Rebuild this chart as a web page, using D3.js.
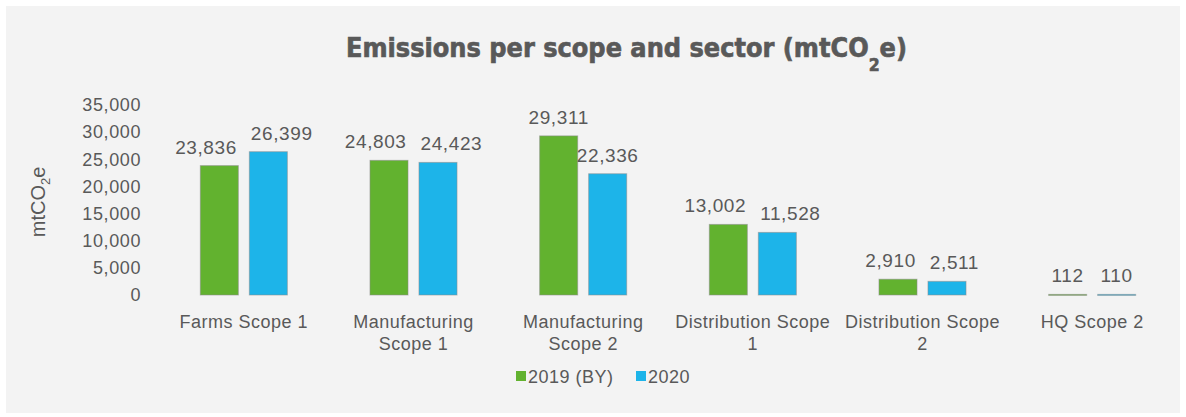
<!DOCTYPE html>
<html>
<head>
<meta charset="utf-8">
<script src="https://cdn.jsdelivr.net/npm/d3@7"></script>
<style>
  body { margin: 0; background: #ffffff; }
  svg { display: block; }
</style>
</head>
<body>
<svg id="chart" width="1186" height="417"></svg>
<script>
// data
var categories = ["Farms Scope 1", "Manufacturing Scope 1", "Manufacturing Scope 2",
                  "Distribution Scope 1", "Distribution Scope 2", "HQ Scope 2"];
var categoryLines = [["Farms Scope 1"], ["Manufacturing", "Scope 1"], ["Manufacturing", "Scope 2"],
                     ["Distribution Scope", "1"], ["Distribution Scope", "2"], ["HQ Scope 2"]];
var seriesNames = ["2019 (BY)", "2020"];
var values2019 = [23836, 24803, 29311, 13002, 2910, 112];
var values2020 = [26399, 24423, 22336, 11528, 2511, 110];
var yTicks = [0, 5000, 10000, 15000, 20000, 25000, 30000, 35000];

var seriesValues = [values2019, values2020];
var textColor = "#595959";
var color = d3.scaleOrdinal().domain(seriesNames).range(["#62b22f", "#1db4e9"]);
var fmt = d3.format(",");

var svg = d3.select("#chart");

// grey panel
svg.append("rect")
    .attr("x", 6)
    .attr("y", 6)
    .attr("width", 1174)
    .attr("height", 407)
    .attr("fill", "#f3f3f3");

// title
var title = svg.append("text")
    .attr("x", 346)
    .attr("y", 57)
    .attr("textLength", 561)
    .attr("lengthAdjust", "spacingAndGlyphs")
    .attr("font-family", "'Liberation Sans Narrow', 'DejaVu Sans Condensed', 'Liberation Sans', sans-serif")
    .attr("font-weight", "bold")
    .attr("font-size", "26px")
    .attr("stroke", textColor)
    .attr("stroke-width", 0.6)
    .attr("fill", textColor);
title.append("tspan").text("Emissions per scope and sector (mtCO");
title.append("tspan").attr("dy", 14).attr("font-size", "17px").text("2");
title.append("tspan").attr("dy", -14).text("e)");

// scales
var x0 = d3.scaleBand().domain(categories).range([159, 1177]).paddingInner(0.487).paddingOuter(0.2435);
var x1 = d3.scaleBand().domain(seriesNames).range([0, x0.bandwidth()]).paddingInner(0.224);
var yScale = d3.scaleLinear().domain([0, 35000]).range([295, 105]);

// y axis labels
var yAxis = svg.append("g")
    .attr("transform", "translate(141,0)")
    .call(d3.axisLeft(yScale).tickValues(yTicks).tickFormat(fmt).tickSize(0).tickPadding(0));
yAxis.select(".domain").remove();
yAxis.selectAll("text")
    .attr("font-family", "'Liberation Sans', Arial, sans-serif")
    .attr("font-size", "18px")
    .attr("letter-spacing", "0.6px")
    .attr("fill", textColor);

// y axis title
var yTitle = svg.append("text")
    .attr("transform", "translate(45,202) rotate(-90)")
    .attr("text-anchor", "middle")
    .attr("font-family", "'Liberation Sans', Arial, sans-serif")
    .attr("font-size", "20px")
    .attr("fill", textColor);
yTitle.append("tspan").text("mtCO");
yTitle.append("tspan").attr("dy", 5).attr("font-size", "13px").text("2");
yTitle.append("tspan").attr("dy", -5).text("e");

// bars
var groups = svg.selectAll("g.group")
    .data(categories)
    .enter().append("g")
    .attr("class", "group")
    .attr("transform", d => "translate(" + x0(d) + ",0)");

groups.selectAll("rect")
    .data((d, i) => seriesNames.map((s, j) => ({ series: s, value: seriesValues[j][i] })))
    .enter().append("rect")
    .attr("x", d => x1(d.series))
    .attr("y", d => yScale(d.value))
    .attr("width", x1.bandwidth())
    .attr("height", d => Math.max(1, yScale(0) - yScale(d.value)))
    .attr("fill", d => color(d.series))
    .attr("stroke", "#8c8c8c")
    .attr("stroke-opacity", 0.55)
    .attr("stroke-width", 1);

// value labels
var labels = groups.selectAll("text.value")
    .data((d, i) => seriesNames.map((s, j) => ({ series: s, value: seriesValues[j][i] })))
    .enter().append("text")
    .attr("class", "value")
    .attr("x", d => x1(d.series) + x1.bandwidth() / 2)
    .attr("y", d => yScale(d.value) - 12)
    .attr("text-anchor", "middle")
    .attr("font-family", "'Liberation Sans', Arial, sans-serif")
    .attr("font-size", "19px")
    .attr("letter-spacing", "0.6px")
    .attr("fill", textColor)
    .text(d => fmt(d.value));

// push the two labels of a group apart when they would collide
groups.each(function() {
    var nodes = d3.select(this).selectAll("text.value").nodes();
    var a = nodes[0], b = nodes[1];
    var ya = +a.getAttribute("y"), yb = +b.getAttribute("y");
    if (Math.abs(ya - yb) > 19) return;
    var wa = a.getComputedTextLength(), wb = b.getComputedTextLength();
    var xa = +a.getAttribute("x"), xb = +b.getAttribute("x");
    var need = (wa + wb) / 2 + 14 - (xb - xa);
    if (need > 0) {
        a.setAttribute("x", xa - need / 2);
        b.setAttribute("x", xb + need / 2);
    }
});

// category labels
groups.each(function(d, i) {
    var t = d3.select(this).append("text")
        .attr("text-anchor", "middle")
        .attr("font-family", "'Liberation Sans', Arial, sans-serif")
        .attr("font-size", "18px")
        .attr("letter-spacing", "0.5px")
        .attr("fill", textColor);
    categoryLines[i].forEach(function(line, k) {
        t.append("tspan")
            .attr("x", x0.bandwidth() / 2)
            .attr("y", 328 + k * 22)
            .text(line);
    });
});

// legend
var legend = svg.append("g");
var legendX = [516, 636];
seriesNames.forEach(function(s, i) {
    legend.append("rect")
        .attr("x", legendX[i])
        .attr("y", 371)
        .attr("width", 10)
        .attr("height", 10)
        .attr("fill", color(s));
    legend.append("text")
        .attr("x", legendX[i] + 12)
        .attr("y", 383)
        .attr("font-family", "'Liberation Sans', Arial, sans-serif")
        .attr("font-size", "18px")
        .attr("letter-spacing", "0.5px")
        .attr("fill", textColor)
        .text(s);
});
</script>
</body>
</html>
